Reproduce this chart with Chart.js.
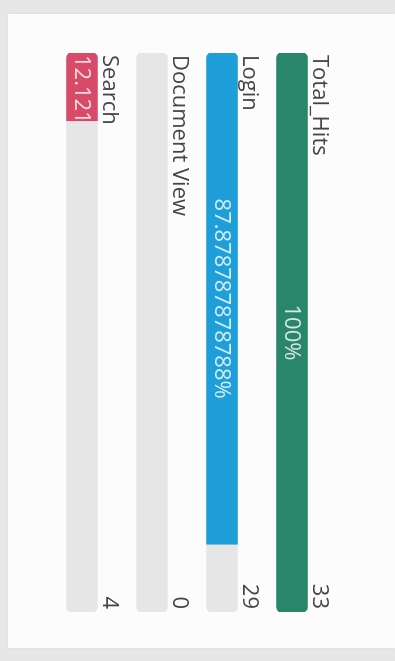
<!DOCTYPE html>
<html>
<head>
<meta charset="utf-8">
<script src="https://cdn.jsdelivr.net/npm/chart.js@4.4.1/dist/chart.umd.min.js"></script>
<style>
  html, body { margin: 0; padding: 0; }
  body { width: 395px; height: 661px; background: #e7e7e7; position: relative; overflow: hidden; }
  .card { position: absolute; left: 8px; top: 14px; right: 0; bottom: 13px; background: #fcfcfc; box-shadow: 0 0 4px rgba(0,0,0,0.06); }
  /* the chart is laid out as a horizontal list and turned a quarter clockwise */
  .turn { position: absolute; left: 0; top: 0; width: 661px; height: 395px; transform-origin: 0 0; transform: translateX(395px) rotate(90deg); }
  canvas { display: block; }
</style>
</head>
<body>
<div class="card"></div>
<div class="turn"><canvas id="hitsChart" width="661" height="395"></canvas></div>
<script>
const categories = ['Total_Hits', 'Login', 'Document View', 'Search'];
const hits = [33, 29, 0, 4];
const total = hits[0];

const fillColors = ['#29866a', '#1e9fd9', '#d74b69', '#d74b69'];
const trackColor = '#e6e6e6';
const labelFont = '22px "Open Sans"';
const percentFont = '22px "Open Sans"';

// same formatting the page used: 14 significant digits
function percentText(v) {
  return parseFloat((v / total * 100).toPrecision(14)) + '%';
}

const progressLabels = {
  id: 'progressLabels',
  afterDatasetsDraw(chart) {
    const ctx = chart.ctx;
    const meta = chart.getDatasetMeta(0);
    const right = chart.chartArea.right;
    meta.data.forEach((bar, i) => {
      const top = bar.y - bar.height / 2;
      const start = bar.base;
      const end = bar.x;

      // name above the bar, count at the right end
      ctx.save();
      ctx.font = labelFont;
      ctx.fillStyle = '#464646';
      ctx.textBaseline = 'alphabetic';
      ctx.textAlign = 'left';
      ctx.fillText(categories[i], start + 2, top - 6);
      ctx.textAlign = 'right';
      ctx.fillText(String(hits[i]), right - 3, top - 6);
      ctx.restore();

      if (end - start < 1) return;

      // percentage inside the filled part, clipped like an overflowing span
      const txt = percentText(hits[i]);
      ctx.save();
      ctx.beginPath();
      ctx.rect(start, top, end - start, bar.height);
      ctx.clip();
      ctx.font = percentFont;
      ctx.fillStyle = 'rgba(255,255,255,0.8)';
      ctx.textBaseline = 'middle';
      const w = ctx.measureText(txt).width;
      if (w < end - start) {
        ctx.textAlign = 'center';
        ctx.fillText(txt, (start + end) / 2, bar.y + 1);
      } else {
        ctx.textAlign = 'left';
        ctx.fillText(txt, start + 2, bar.y + 1);
      }
      ctx.restore();
    });
  }
};

new Chart(document.getElementById('hitsChart'), {
  type: 'bar',
  data: {
    labels: categories,
    datasets: [
      {
        data: hits,
        // an empty bar should leave no sliver of colour behind
        backgroundColor: (c) => c.raw > 0 ? fillColors[c.dataIndex] : 'rgba(0,0,0,0)',
        order: 1,
        borderSkipped: false,
        borderRadius: (c) => c.raw >= total
          ? 5
          : { topLeft: 5, bottomLeft: 5, topRight: 0, bottomRight: 0 }
      },
      {
        data: categories.map(() => total),
        backgroundColor: trackColor,
        order: 2,
        borderSkipped: false,
        borderRadius: 5
      }
    ]
  },
  options: {
    indexAxis: 'y',
    responsive: false,
    animation: false,
    datasets: {
      bar: { grouped: false, barThickness: 31 }
    },
    layout: {
      padding: { left: 53, right: 49, top: 68, bottom: 47 }
    },
    plugins: {
      legend: { display: false },
      tooltip: { enabled: false }
    },
    scales: {
      x: { display: false, min: 0, max: total },
      y: { display: false }
    }
  },
  plugins: [progressLabels]
});
</script>
</body>
</html>
